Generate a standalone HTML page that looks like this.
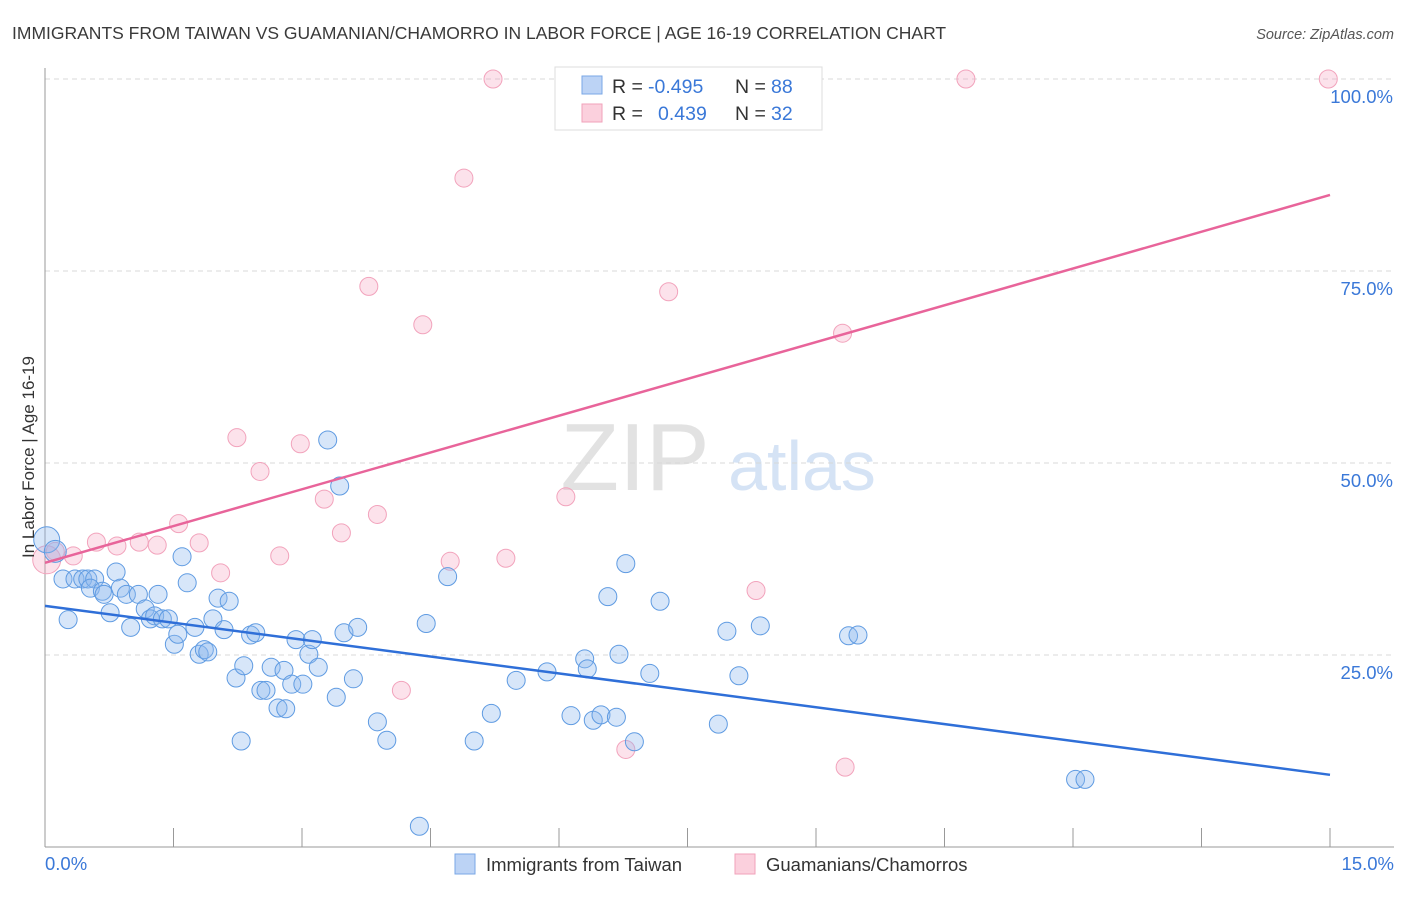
<!DOCTYPE html>
<html><head><meta charset="utf-8"><style>
body{margin:0;background:#fff;font-family:"Liberation Sans",sans-serif}
svg text{font-family:"Liberation Sans",sans-serif}
</style></head><body>
<svg id="chart" width="1406" height="892" xmlns="http://www.w3.org/2000/svg">
<text x="12" y="39" font-size="17.5" fill="#3a3a3a">IMMIGRANTS FROM TAIWAN VS GUAMANIAN/CHAMORRO IN LABOR FORCE | AGE 16-19 CORRELATION CHART</text>
<text x="1394" y="39" font-size="14.5" fill="#555" text-anchor="end" font-style="italic">Source: ZipAtlas.com</text>
<g>
<text x="635" y="490" font-size="96" fill="#e2e2e2" text-anchor="middle" font-family="Liberation Serif">ZIP</text>
<text x="802" y="490" font-size="70" fill="#d5e3f5" text-anchor="middle">atlas</text>
</g>
<g id="grid"></g>
<g id="axes"></g>
<g id="marks"></g>
<text transform="translate(34,457) rotate(-90)" font-size="17" fill="#333" text-anchor="middle">In Labor Force | Age 16-19</text>
<g>
<rect x="555" y="67" width="267" height="63" fill="#fff" stroke="#ddd"/>
<rect x="582" y="76" width="20" height="18" fill="#bcd3f5" stroke="#7aa7e6"/>
<text x="612" y="93" font-size="19.5" fill="#333">R = </text><text x="648" y="93" font-size="19.5" fill="#3a78d8">-0.495</text>
<text x="735" y="93" font-size="19.5" fill="#333">N = </text><text x="771" y="93" font-size="19.5" fill="#3a78d8">88</text>
<rect x="582" y="104" width="20" height="18" fill="#fbd0dd" stroke="#f0a2ba"/>
<text x="612" y="120" font-size="19.5" fill="#333">R = </text><text x="658" y="120" font-size="19.5" fill="#3a78d8">0.439</text>
<text x="735" y="120" font-size="19.5" fill="#333">N = </text><text x="771" y="120" font-size="19.5" fill="#3a78d8">32</text>
</g>
<g>
<rect x="455" y="854" width="20" height="20" fill="#bcd3f5" stroke="#7aa7e6"/>
<text x="486" y="871" font-size="18.5" fill="#333">Immigrants from Taiwan</text>
<rect x="735" y="854" width="20" height="20" fill="#fbd0dd" stroke="#f0a2ba"/>
<text x="766" y="871" font-size="18.5" fill="#333">Guamanians/Chamorros</text>
</g>
</svg>
<script>
const blueX=[0.02,0.12,0.21,0.27,0.35,0.44,0.50,0.58,0.53,0.67,0.69,0.76,0.83,0.88,0.95,1.00,1.09,1.17,1.23,1.28,1.32,1.37,1.44,1.51,1.55,1.60,1.66,1.75,1.80,1.86,1.90,1.96,2.02,2.09,2.15,2.23,2.29,2.32,2.40,2.46,2.52,2.58,2.64,2.72,2.79,2.81,2.88,2.93,3.01,3.08,3.12,3.19,3.30,3.40,3.44,3.49,3.60,3.65,3.88,3.99,4.37,4.45,4.70,5.01,5.21,5.50,5.86,6.14,6.30,6.33,6.40,6.49,6.57,6.67,6.70,6.78,6.88,7.06,7.18,7.86,7.96,8.10,8.35,9.38,9.49,12.03,12.14];
const blueY=[40.0,38.5,34.9,29.6,34.9,34.9,34.9,34.9,33.7,33.3,32.9,30.5,35.8,33.7,32.9,28.6,32.9,31.0,29.7,30.1,32.9,29.7,29.7,26.4,27.7,37.8,34.4,28.6,25.1,25.7,25.4,29.7,32.4,28.3,32.0,22.0,13.8,23.6,27.6,27.9,20.4,20.4,23.4,18.1,23.0,18.0,21.2,27.0,21.2,25.1,27.0,23.4,53.0,19.5,47.0,27.9,21.9,28.6,16.3,13.9,2.7,29.1,35.2,13.8,17.4,21.7,22.8,17.1,24.5,23.2,16.5,17.2,32.6,16.9,25.1,36.9,13.7,22.6,32.0,16.0,28.1,22.3,28.8,27.5,27.6,8.8,8.8];
const pinkX=[0.02,0.12,0.33,0.60,0.84,1.10,1.31,1.56,1.80,2.05,2.24,2.51,2.74,2.98,3.26,3.46,3.78,3.88,4.16,4.41,4.73,4.89,5.23,5.38,6.08,6.78,7.28,8.30,9.31,9.34,10.75,14.98];
const pinkY=[37.4,38.5,37.9,39.7,39.2,39.7,39.3,42.1,39.6,35.7,53.3,48.9,37.9,52.5,45.3,40.9,73.0,43.3,20.4,68.0,37.2,87.1,100,37.6,45.6,12.7,72.3,33.4,66.9,10.4,100,100];
const blueTrend=[31.4,9.4];
const pinkTrend=[37.0,84.9];
const yTicks=[25,50,75,100];
const yTickLabels=["25.0%","50.0%","75.0%","100.0%"];
const xTicks=[0,1.5,3,4.5,6,7.5,9,10.5,12,13.5,15];

const NS="http://www.w3.org/2000/svg";
const sx=v=>45+v*(1330-45)/15;
const sy=v=>847-v*7.68;
function mk(parent,tag,attrs){const e=document.createElementNS(NS,tag);for(const k in attrs)e.setAttribute(k,attrs[k]);document.getElementById(parent).appendChild(e);return e;}

yTicks.forEach((t,i)=>{
  const g=mk('grid','line',{x1:45,x2:1394,y1:sy(t),y2:sy(t),stroke:'#d8d8d8','stroke-dasharray':'5,4'});
  
  
  const l=mk('axes','text',{x:1393,y:sy(t)+24,'font-size':18.5,fill:'#3a78d8','text-anchor':'end'});
  l.textContent=yTickLabels[i];
  
  
});
const ya=mk('axes','line',{x1:45,x2:45,y1:68,y2:847,stroke:'#999'});


const xa=mk('axes','line',{x1:45,x2:1394,y1:847,y2:847,stroke:'#999'});


xTicks.forEach(t=>{
  const k=mk('axes','line',{x1:sx(t),x2:sx(t),y1:828,y2:847,stroke:'#999'});
  
  
});
const x0=mk('axes','text',{x:45,y:870,'font-size':18.5,fill:'#3a78d8'});x0.textContent='0.0%';


const x1=mk('axes','text',{x:1394,y:870,'font-size':18.5,fill:'#3a78d8','text-anchor':'end'});x1.textContent='15.0%';



pinkX.forEach((x,i)=>{
  const c=mk('marks','circle',{cx:sx(x),cy:sy(pinkY[i]),r:i===0?14:9,fill:'rgba(245,165,192,0.32)',stroke:'#f2a3bc','stroke-width':1});
  
  
});
blueX.forEach((x,i)=>{
  const c=mk('marks','circle',{cx:sx(x),cy:sy(blueY[i]),r:i===0?13:(i===1?11:9),fill:'rgba(140,182,238,0.35)',stroke:'#5f9be2','stroke-width':1});
  
  
});
const bl=mk('marks','line',{x1:sx(0),y1:sy(blueTrend[0]),x2:sx(15),y2:sy(blueTrend[1]),stroke:'#2f6fd8','stroke-width':2.5});


const pl=mk('marks','line',{x1:sx(0),y1:sy(pinkTrend[0]),x2:sx(15),y2:sy(pinkTrend[1]),stroke:'#e8649a','stroke-width':2.5});


</script>
</body></html>
